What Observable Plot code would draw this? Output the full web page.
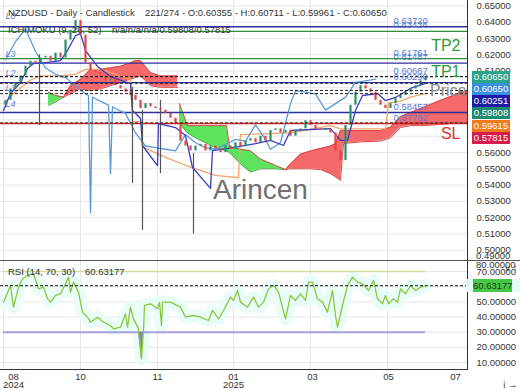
<!DOCTYPE html>
<html><head><meta charset="utf-8">
<script src="https://cdn.jsdelivr.net/npm/d3@7"></script>
<script src="https://cdn.jsdelivr.net/npm/@observablehq/plot@0.6"></script>
<style>
body{margin:0;background:#fff;}
#wrap{position:relative;width:520px;height:390px;overflow:hidden;font-family:"Liberation Sans",Arial,sans-serif;background:#fff;}
#main,#rsi{position:absolute;left:0;}
#main{top:0;} #rsi{top:261px;}
.t{position:absolute;font-size:9.5px;line-height:12px;color:#333;white-space:pre;}
.box{position:absolute;left:472px;width:38px;height:12px;line-height:12px;font-size:9.5px;color:#fff;text-align:center;}
</style></head><body><div id="wrap"></div>
<script>
// ---------- DATA (x unit = sampled candle index) ----------
const closes = [0.592,0.599,0.603,0.607,0.613,0.616,0.615,0.618,0.619,0.616,0.621,0.618,0.629,0.635,0.641,0.632,0.615,0.610,0.609,0.607,0.604,0.605,0.601,0.599,0.597,0.595,0.592,0.587,0.590,0.588,0.587,0.586,0.584,0.581,0.577,0.567,0.564,0.561,0.564,0.565,0.561,0.564,0.562,0.560,0.564,0.562,0.566,0.5635,0.567,0.5685,0.566,0.570,0.567,0.5735,0.5745,0.572,0.5735,0.570,0.5735,0.5745,0.5795,0.5765,0.5745,0.5735,0.5745,0.572,0.561,0.555,0.5765,0.589,0.597,0.601,0.599,0.597,0.592,0.589,0.587,0.590,0.593,0.595,0.597,0.599,0.601,0.604,0.6065];
const firstOpen = 0.589;

const spikeBars = [6.8, 25.4, 27.4, 31, 37.6];
const spikeHigh = [0.620, 0.600, 0.5858, 0.592, 0.5594];
const spikeLow  = [0.5766, 0.541, 0.5122, 0.547, 0.510];

const tenkanBars = [-0.4,1,3,4.4,5.6,8,11,12.4,14,15,16,18.4,21,25,25.4,27,27.4,30.4,30.6,34,36,37.4,41,41.4,44.6,50,53,55.6,57,65,67,68.4,70,71.4,74.4,76,78,81,84];
const tenkanVals = [0.5858,0.5962,0.603,0.6115,0.6146,0.6152,0.6164,0.6226,0.6318,0.633,0.6226,0.6128,0.6066,0.6023,0.5858,0.581,0.5643,0.552,0.5778,0.5753,0.5704,0.5508,0.538,0.5612,0.5625,0.5655,0.5674,0.5643,0.5735,0.5747,0.5674,0.5674,0.5858,0.595,0.5962,0.5919,0.5938,0.5993,0.6025];

const kijunBars = [-0.4,1.6,5,7,11,14,16,19,25,25.4,27.2,27.4,32,37.4,42,46.6,47,57,65,67,76,76.6,79,81,84];
const kijunVals = [0.590,0.596,0.6045,0.607,0.607,0.608,0.611,0.611,0.605,0.579,0.579,0.5635,0.557,0.5505,0.546,0.5445,0.571,0.572,0.5765,0.5745,0.5745,0.5905,0.5915,0.594,0.5962];

const chikouBars = [0,2,4,6,8,10,12,14,16,16.6,17,17.4,18,20,20.6,21,21.4,22,24,26,28,30,32,34,36,38,40,42,44,46,48,50,52,53,55,57,58,60,62,64,66,68,70,72,74];
const chikouVals = [0.617,0.628,0.636,0.622,0.612,0.608,0.606,0.601,0.596,0.595,0.523,0.594,0.593,0.590,0.589,0.547,0.588,0.587,0.584,0.572,0.564,0.563,0.562,0.561,0.571,0.566,0.563,0.562,0.565,0.568,0.567,0.577,0.568,0.562,0.566,0.590,0.598,0.597,0.596,0.586,0.590,0.594,0.603,0.604,0.605];

const cloudBars = [8.6,10,11.6,13,15,17,19,21,23,25,26,27,29,31,34.4,34.8,36.4,38,40,42,44.2,44.8,47,49,51,54,56,57,59,61,63,65,66,67,67.6,71,75,77,79,81,83,85,87,89,91,92.4];
const spanA = [0.589,0.591,0.594,0.601,0.605,0.611,0.611,0.612,0.613,0.615,0.6164,0.6164,0.609,0.607,0.607,0.578,0.572,0.569,0.566,0.563,0.561,0.560,0.553,0.548,0.550,0.550,0.5495,0.553,0.559,0.561,0.5625,0.564,0.5655,0.5735,0.5735,0.5735,0.5735,0.5755,0.582,0.5845,0.587,0.5895,0.592,0.5944,0.5968,0.598];
const spanB = [0.597,0.595,0.594,0.596,0.599,0.598,0.599,0.601,0.603,0.605,0.606,0.607,0.601,0.600,0.600,0.590,0.5765,0.5765,0.5765,0.5765,0.5765,0.5635,0.562,0.561,0.556,0.552,0.5495,0.550,0.550,0.550,0.5495,0.547,0.545,0.543,0.5655,0.5665,0.567,0.569,0.5753,0.5765,0.5765,0.5768,0.5772,0.5777,0.578,0.5782];

const levelValues = [0.63720,0.63436,0.61761,0.61487,0.60667,0.60290,0.58457,0.57782];
const levelKinds  = ["navy","green","green","navy","dash","navy","navy","red"];
const currentValues = [0.60650,0.60251,0.59808,0.59615,0.57815];

const rsiBars = [-0.4,1,1.6,2.6,3.4,4.4,5.6,6.6,7.6,8.4,9,10,11,12,12.6,13,13.6,14.6,15.4,16.4,17,18.4,19.6,21,21.6,23,24,24.4,25,25.6,26.6,27.2,27.6,27.8,29,30.4,30.8,31.2,31.4,33,35,36,37.6,39,40.6,41.4,42.6,43.6,45,45.6,46.4,47,48.4,49.6,50.6,51.6,52.6,53.6,54.6,56,57,58,59,60,60.6,61.4,62.4,63.4,64.4,65.4,66,66.4,67.4,68.4,69.4,70.4,71.4,72.6,73.6,74.4,75.4,76,76.6,77.6,78.4,79,80,81,82,83,84];
const rsiVals = [49.8,60.8,46.5,59.7,65.2,67.4,68.5,58.6,59.7,52,49.8,54.2,55.3,61.9,66.3,56.4,63,56.4,43.2,39.9,36.6,39.9,36.6,34.4,32.2,33.3,42.1,33.3,46.5,38.8,32.2,12.4,31.1,47.6,48.7,45.4,49.8,34.4,49.8,49.8,46.5,39.9,41,39.9,37.7,44.3,38.8,44.3,53.1,50.9,57.5,49.8,46.5,53.1,46.5,49.8,58.6,60.8,56.4,38.8,54.2,50.9,55.3,50.9,63,63,52,49.8,43.2,57.5,41,33.3,47.6,60.8,66.3,63,61.9,57.5,64.1,52,48.7,54.2,48.7,52,49.8,58.6,55.3,60.8,57.5,59.7,60.6];
const rsiNow = 60.63177;

const priceTicks = [0.50,0.51,0.52,0.53,0.54,0.55,0.56,0.57,0.58,0.59,0.60,0.61,0.62,0.63,0.64,0.65];
const priceLabels = [0.50,0.51,0.52,0.53,0.54,0.55,0.56,0.61,0.62,0.63,0.64,0.65]; // others sit behind the value tags
const rsiTicks = [10,20,30,40,50,60,70];
const rsiLabels = [10,20,30,40,50,70]; // 60 sits behind the RSI tag
const gridBars = [-0.4,15,30.4,45.6,61,76.4];
const labelBars = [1.6,15,30.4,45.6,61.4,76.6,90];
const xLabels = ["08\n2024","10","11","01\n2025","03","05","07"];

const tagValues = ["0.60650","0.60650","0.60251","0.59808","0.59615","0.57815"];
const sideNotes = ["L0","L3","L2","L1","L4"];
const sideNoteVals = [0.644,0.6207,0.609,0.5993,0.590];
const annotations = [{t:"TP2", v:0.6256, k:"g"},{t:"TP1", v:0.6097, k:"g"},{t:"Price", v:0.598, k:"p"},{t:"SL", v:0.5716, k:"r"}];

// ---------- STYLE ----------
const FONT = '"Liberation Sans", Arial, sans-serif';
const C = {grid:"#e6e6e6", up:"#2a8f6a", down:"#e14545", wick:"#555",
  navy:"#2b2f9e", green:"#2f8f3a", red:"#e02424", dash:"#222",
  tenkan:"#3c3cc4", kijun:"#f2a46a", chikou:"#5b9bd5",
  cloudRed:"#f46a6a", cloudGreen:"#5de35d", cloudRedEdge:"#d94848", cloudGreenEdge:"#3aa83a",
  lvlText:"#5b7bd5"};
const tagColors = ["#2ba58a","#3b8fe0","#1c1ca6","#1f8a72","#f27a1b","#d81b4a"];
const xDomain = [-1, 92.4];
const lastBar = closes.length - 1;

// ---------- DERIVED TABLES ----------
const candles = closes.map((c,k)=>({i:k, open: k ? closes[k-1] : firstOpen, close:c}));
const spikes = spikeBars.map((b,k)=>({i:b, hi:spikeHigh[k], lo:spikeLow[k]}));
const tenkan = tenkanBars.map((b,k)=>({i:b, v:tenkanVals[k]}));
const kijun = kijunBars.map((b,k)=>({i:b, v:kijunVals[k]}));
const chikou = chikouBars.map((b,k)=>({i:b, v:chikouVals[k]}));
const rsi = rsiBars.map((b,k)=>({i:b, v:rsiVals[k]}));
const levels = levelValues.map((v,k)=>({v, kind:levelKinds[k]}));

const cloud = cloudBars.map((b,k)=>({i:b, a:spanA[k], b:spanB[k]}));
const runs=[]; let cur=null, cross=null;
for (const p of cloud){
  const s = p.a>p.b ? "red" : p.a<p.b ? "green" : null;
  if (s===null){ if(cur) cur.pts.push(p); cur=null; cross=p; continue; }
  if (!cur || cur.s!==s){ cur={s, pts: cross?[cross]:[]}; runs.push(cur); }
  cur.pts.push(p); cross=null;
}
const cloudRows = runs.flatMap((r,k)=>r.pts.map(p=>({...p, run:k, s:r.s})));
const redCloud = cloudRows.filter(d=>d.s==="red");
const greenCloud = cloudRows.filter(d=>d.s==="green");

const fmt5 = d3.format(".5f");
const labelOf = new Map(labelBars.map((b,k)=>[b,xLabels[k]]));

// ---------- MAIN PANEL ----------
const main = Plot.plot({
  width:520, height:261, marginLeft:0, marginRight:53, marginTop:0, marginBottom:0,
  x:{domain:xDomain, axis:null},
  y:{domain:[0.4931,0.6533]},
  style:{fontFamily:FONT, fontSize:"9.5px", color:"#333", background:"transparent", overflow:"visible"},
  marks:[
    Plot.gridY(priceTicks,{stroke:C.grid, strokeOpacity:1}),
    Plot.gridX(gridBars,{stroke:C.grid, strokeOpacity:1}),
    Plot.areaY(redCloud,{x:"i", y1:"a", y2:"b", z:"run", fill:C.cloudRed}),
    Plot.areaY(greenCloud,{x:"i", y1:"a", y2:"b", z:"run", fill:C.cloudGreen}),
    Plot.line(redCloud,{x:"i", y:"a", z:"run", stroke:C.cloudRedEdge, strokeWidth:1}),
    Plot.line(redCloud,{x:"i", y:"b", z:"run", stroke:C.cloudRedEdge, strokeWidth:1}),
    Plot.line(greenCloud,{x:"i", y:"a", z:"run", stroke:C.cloudGreenEdge, strokeWidth:1}),
    Plot.line(greenCloud,{x:"i", y:"b", z:"run", stroke:C.cloudRedEdge, strokeWidth:1}),
    Plot.ruleY(levels.filter(d=>d.kind==="navy"),{y:"v", stroke:C.navy, strokeWidth:1.4}),
    Plot.ruleY(levels.filter(d=>d.kind==="green"),{y:"v", stroke:C.green, strokeWidth:1.4}),
    Plot.ruleY(levels.filter(d=>d.kind==="red"),{y:"v", stroke:C.red, strokeWidth:1.4}),
    Plot.line(kijun,{x:"i", y:"v", stroke:C.kijun, strokeWidth:1.3}),
    Plot.line(chikou,{x:"i", y:"v", stroke:C.chikou, strokeWidth:1.3}),
    Plot.line(tenkan,{x:"i", y:"v", stroke:C.tenkan, strokeWidth:1.3}),
    Plot.ruleX(spikes,{x:"i", y1:"hi", y2:"lo", stroke:C.wick, strokeWidth:1.2}),
    Plot.ruleX(candles.filter(d=>d.close>=d.open),{x:"i", y1:"open", y2:"close", stroke:C.up, strokeWidth:2.2}),
    Plot.ruleX(candles.filter(d=>d.close<d.open),{x:"i", y1:"open", y2:"close", stroke:C.down, strokeWidth:2.2}),
    Plot.ruleY(levels.filter(d=>d.kind==="dash"),{y:"v", stroke:C.dash, strokeWidth:1, strokeDasharray:"3,2"}),
    Plot.ruleY(currentValues,{stroke:C.dash, strokeWidth:1, strokeDasharray:"3,2"}),
    Plot.text(levels,{x:()=>77.6, y:"v", text:d=>fmt5(d.v), dy:-6, textAnchor:"start", fill:C.lvlText, fontSize:9.5}),
    Plot.text(sideNotes.map((t,k)=>({t, v:sideNoteVals[k]})),{x:()=>1, y:"v", text:"t", fill:C.lvlText, fontSize:9, fontStyle:"italic"}),
    Plot.text(annotations.filter(d=>d.k==="g"),{x:()=>91, y:"v", text:"t", textAnchor:"end", fill:"#2e9a3a", fontSize:16}),
    Plot.text(annotations.filter(d=>d.k==="r"),{x:()=>91, y:"v", text:"t", textAnchor:"end", fill:"#e0302a", fontSize:16}),
    Plot.text(annotations.filter(d=>d.k==="p"),{x:()=>92.2, y:"v", text:"t", textAnchor:"end", fill:"#8a8a8a", fontSize:16}),
    Plot.axisY(priceLabels,{anchor:"right", tickSize:0, tickPadding:9, tickFormat:fmt5}),
    Plot.frame({anchor:"right", stroke:"#333"})
  ]
});

// ---------- RSI PANEL ----------
const rsiPlot = Plot.plot({
  width:520, height:129, marginLeft:0, marginRight:53, marginTop:0, marginBottom:21,
  x:{domain:xDomain},
  y:{domain:[5.4,76.6]},
  style:{fontFamily:FONT, fontSize:"9.5px", color:"#333", background:"transparent", overflow:"visible"},
  marks:[
    Plot.gridY(rsiTicks,{stroke:C.grid, strokeOpacity:1}),
    Plot.gridX(gridBars,{stroke:C.grid, strokeOpacity:1}),
    Plot.line(rsi,{x:"i", y:"v", stroke:"#e8fcf8", strokeWidth:13}),
    Plot.ruleY([70],{x1:()=>rsiBars[0], x2:()=>lastBar, stroke:"#d6dc98", strokeWidth:1.6}),
    Plot.ruleY([30],{x1:()=>rsiBars[0], x2:()=>lastBar, stroke:"#a99ee0", strokeWidth:2}),
    Plot.areaY(rsi,{x:"i", y1:()=>30, y2:d=>Math.min(d.v,30), fill:"#7d88a8"}),
    Plot.line(rsi,{x:"i", y:"v", stroke:"#8cc63e", strokeWidth:1.3}),
    Plot.ruleY([rsiNow],{stroke:"#111", strokeWidth:1, strokeDasharray:"3,2"}),
    Plot.axisY(rsiLabels,{anchor:"right", tickSize:0, tickPadding:9, tickFormat:fmt5}),
    Plot.axisX(labelBars,{tickSize:0, tickPadding:5, lineHeight:0.85, tickFormat:d=>labelOf.get(d)}),
    Plot.frame({anchor:"right", stroke:"#333"}),
    Plot.frame({anchor:"bottom", stroke:"#333"})
  ]
});

// ---------- ASSEMBLY ----------
const wrap = document.getElementById("wrap");
const mDiv = document.createElement("div"); mDiv.id="main"; mDiv.appendChild(main); wrap.appendChild(mDiv);
const rDiv = document.createElement("div"); rDiv.id="rsi"; rDiv.appendChild(rsiPlot); wrap.appendChild(rDiv);
function addText(txt, left, top, css){ const d=document.createElement("div"); d.className="t"; d.textContent=txt; d.style.left=left+"px"; d.style.top=top+"px"; if(css) Object.assign(d.style, css); wrap.appendChild(d); return d; }
const sep=document.createElement("div"); Object.assign(sep.style,{position:"absolute",left:"0px",top:"260px",width:"520px",height:"1px",background:"#555"}); wrap.appendChild(sep);
addText("NZDUSD - Daily - Candlestick", 8, 7);
addText("221/274 - O:0.60355 - H:0.60711 - L:0.59961 - C:0.60650", 145, 7);
addText("ICHIMOKU (9, 26, 52)", 8, 24);
addText("n/a/n/a/n/a/0.59808/0.57815", 112, 24);
addText("RSI (14, 70, 30)", 8, 266);
addText("60.63177", 85, 266);
addText("Arincen", 213, 174, {fontSize:"28px", lineHeight:"32px", color:"#707070"});
addText("0.49000", 476, 250, {lineHeight:"11px"});
addText("80.00000", 476, 259, {lineHeight:"11px"});
tagValues.forEach((v,k)=>{ const d=document.createElement("div"); d.className="box"; d.textContent=v; d.style.top=(70.5+k*12.3)+"px"; d.style.background=tagColors[k]; wrap.appendChild(d); });
const halo=document.createElement("div"); Object.assign(halo.style,{position:"absolute",left:"466px",top:"279px",width:"54px",height:"13px",background:"#e3fbf6"}); wrap.appendChild(halo);
const rb=document.createElement("div"); rb.className="box"; rb.textContent=fmt5(rsiNow); Object.assign(rb.style,{top:"279px",height:"13px",lineHeight:"13px",width:"39px",left:"473px",background:"#46c846",color:"#1d3a1d"}); wrap.appendChild(rb);
</script></body></html>
